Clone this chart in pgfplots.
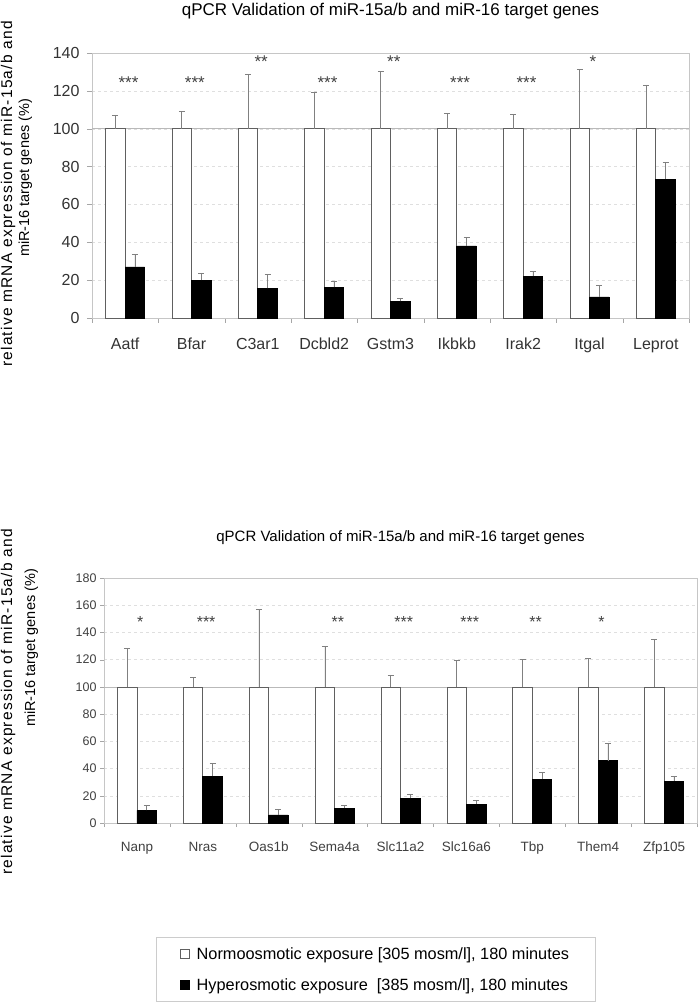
\documentclass[border=0pt]{standalone}
\usepackage{fontspec}
\setmainfont{Liberation Sans}
\newfontfamily\lsfont[LetterSpace=8]{Liberation Sans}
\usepackage{pgfplots}
\pgfplotsset{compat=1.18}

\pgfplotsset{
  mybars/.style={
    ybar=0pt, bar width=19.5pt,
    scale only axis,
    xmin=0.5, xmax=9.5, ymin=0,
    xtick={1,...,9},
    minor xtick={0.5,1.5,...,9.5},
    major x tick style={draw=none},
    minor tick length=5pt,
    major tick length=5pt,
    tick align=outside,
    xtick pos=bottom, ytick pos=left,
    axis line style={gray!45},
    every tick/.append style={gray!70},
    ymajorgrids, major grid style={dashed, gray!25},
    /pgf/number format/assume math mode=true,
    clip=false,
    legend image code/.code={\draw[##1,line width=0.6pt,bar shift=0pt] (0pt,-4.5pt) rectangle (9pt,4.5pt);},
  },
  whitebar/.style={fill=white, draw=gray!75!black, line width=0.7pt,
    error bars/.cd, y dir=plus, y explicit,
    error bar style={gray, line width=0.6pt},
    error mark options={rotate=90, gray, mark size=3pt, line width=0.6pt}},
  blackbar/.style={fill=black, draw=black, line width=0.7pt,
    error bars/.cd, y dir=plus, y explicit,
    error bar style={gray, line width=0.6pt},
    error mark options={rotate=90, gray, mark size=3pt, line width=0.6pt}},
}

\begin{document}
\begin{tikzpicture}
\useasboundingbox (0,0) rectangle (700pt,1003pt);

% ---------------- top chart ----------------
\begin{axis}[mybars,
  at={(92pt,685pt)}, anchor=south west,
  width=597pt, height=265pt,
  ymax=140, ytick={0,20,...,140},
  xticklabels={Aatf,Bfar,C3ar1,Dcbld2,Gstm3,Ikbkb,Irak2,Itgal,Leprot},
  tick label style={font=\fontsize{16}{18}\selectfont, text=black!80},
  yticklabel style={xshift=-4pt},
  xticklabel style={anchor=base, yshift=-27pt},
  title={qPCR Validation of miR-15a/b and miR-16 target genes},
  title style={at={(axis description cs:0.5,1)}, anchor=base, yshift=31pt,
    font=\fontsize{17}{20}\selectfont},
]
\draw[gray!55, line width=0.7pt] (axis cs:0.5,100) -- (axis cs:9.5,100);
\addplot[whitebar] coordinates {
  (1,100) +- (0,7.3)
  (2,100) +- (0,9.1)
  (3,100) +- (0,28.7)
  (4,100) +- (0,19.4)
  (5,100) +- (0,30.1)
  (6,100) +- (0,8.2)
  (7,100) +- (0,7.7)
  (8,100) +- (0,31.2)
  (9,100) +- (0,23.1)
};
\addplot[blackbar] coordinates {
  (1,27.0) +- (0,6.5)
  (2,20.0) +- (0,3.8)
  (3,15.7) +- (0,7.3)
  (4,16.2) +- (0,3.4)
  (5,8.8)  +- (0,1.8)
  (6,38.1) +- (0,4.3)
  (7,22.1) +- (0,2.6)
  (8,11.1) +- (0,6.0)
  (9,73.3) +- (0,9.0)
};
\begin{scope}[every node/.style={font=\fontsize{17}{18}\selectfont, text=black!75}]
\node at (axis cs:1.05,124.5) {***};
\node at (axis cs:2.05,124.5) {***};
\node at (axis cs:3.05,135.3) {**};
\node at (axis cs:4.05,124.5) {***};
\node at (axis cs:5.05,135.3) {**};
\node at (axis cs:6.05,124.5) {***};
\node at (axis cs:7.05,124.5) {***};
\node at (axis cs:8.05,135.3) {*};
\end{scope}
\end{axis}

\node[rotate=90, anchor=base, font=\lsfont\fontsize{15.5}{17}\selectfont] at (12pt,809pt)
  {relative mRNA expression of miR-15a/b and};
\node[rotate=90, anchor=base, font=\fontsize{14.5}{17}\selectfont] at (29pt,825pt)
  {miR-16 target genes (\%)};

% ---------------- bottom chart ----------------
\begin{axis}[mybars,
  at={(104pt,180pt)}, anchor=south west,
  width=593pt, height=245pt,
  ymax=180, ytick={0,20,...,180},
  xticklabels={Nanp,Nras,Oas1b,Sema4a,Slc11a2,Slc16a6,Tbp,Them4,Zfp105},
  yticklabel style={font=\fontsize{12.5}{14}\selectfont, text=black!75},
  xticklabel style={font=\fontsize{13.5}{16}\selectfont, text=black!75, anchor=base, yshift=-24pt},
  major tick length=4pt, minor tick length=4pt,
  title={qPCR Validation of miR-15a/b and miR-16 target genes},
  title style={at={(axis description cs:0.5,1)}, anchor=base, yshift=30pt,
    font=\fontsize{15}{18}\selectfont},
  legend style={at={(axis description cs:0.458,-0.598)}, anchor=center,
    draw=gray!40, line width=0.7pt, font=\fontsize{16.3}{19}\selectfont,
    inner xsep=24pt, inner ysep=8pt, row sep=14pt,
    /tikz/every odd column/.append style={column sep=5pt}},
  legend cell align=left,
]
\draw[gray!55, line width=0.7pt] (axis cs:0.5,100) -- (axis cs:9.5,100);
\addplot[whitebar] coordinates {
  (1,100) +- (0,28.0)
  (2,100) +- (0,6.9)
  (3,100) +- (0,56.8)
  (4,100) +- (0,29.5)
  (5,100) +- (0,8.8)
  (6,100) +- (0,19.7)
  (7,100) +- (0,20.4)
  (8,100) +- (0,21.0)
  (9,100) +- (0,34.6)
};
\addlegendentry{Normoosmotic exposure [305 mosm/l], 180 minutes}
\addplot[blackbar] coordinates {
  (1,9.3)  +- (0,3.7)
  (2,34.4) +- (0,9.1)
  (3,5.9)  +- (0,4.1)
  (4,11.0) +- (0,2.0)
  (5,18.0) +- (0,3.4)
  (6,13.8) +- (0,2.7)
  (7,32.2) +- (0,4.8)
  (8,45.7) +- (0,12.8)
  (9,30.7) +- (0,3.7)
};
\addlegendentry{Hyperosmotic exposure \ [385 mosm/l], 180 minutes}
\begin{scope}[every node/.style={font=\fontsize{16}{18}\selectfont, text=black!75}]
\node at (axis cs:1.05,147.5) {*};
\node at (axis cs:2.05,147.5) {***};
\node at (axis cs:4.05,147.5) {**};
\node at (axis cs:5.05,147.5) {***};
\node at (axis cs:6.05,147.5) {***};
\node at (axis cs:7.05,147.5) {**};
\node at (axis cs:8.05,147.5) {*};
\end{scope}
\end{axis}

\node[rotate=90, anchor=base, font=\lsfont\fontsize{15.5}{17}\selectfont] at (12pt,301pt)
  {relative mRNA expression of miR-15a/b and};
\node[rotate=90, anchor=base, font=\fontsize{14.5}{17}\selectfont] at (35pt,355pt)
  {miR-16 target genes (\%)};
\end{tikzpicture}
\end{document}
